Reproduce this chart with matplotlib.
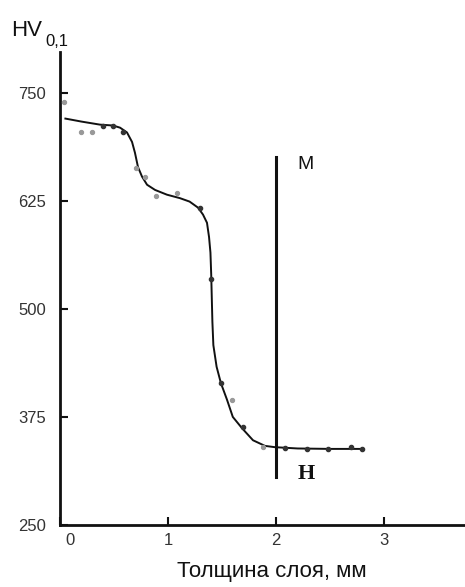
import matplotlib
matplotlib.use("Agg")
import matplotlib.pyplot as plt
from matplotlib.transforms import ScaledTranslation

plt.rcParams['font.family'] = ['Liberation Sans', 'DejaVu Sans']

# Fitted curve (thickness mm, HV0.1)
curve_x = [0.05, 0.20, 0.37, 0.49, 0.556, 0.62, 0.667, 0.694, 0.722, 0.759, 0.806, 0.88,
           0.99, 1.11, 1.20, 1.278, 1.324, 1.361, 1.38, 1.393, 1.400, 1.405, 1.411, 1.420,
           1.45, 1.49, 1.546, 1.60, 1.685, 1.787, 1.898, 1.99, 2.20, 2.50, 2.80]
curve_y = [720, 716.5, 713, 712, 709.5, 704, 693, 680.5, 664, 653, 643.5, 637.5,
           632, 628, 624, 617, 609, 599.5, 583, 565, 540, 515, 485, 458,
           433, 414, 395, 375, 362, 348, 341.5, 340, 338.5, 338, 338]

# Measured points (dark)
dark_x = [0.40, 0.49, 0.58, 1.30, 1.40, 1.49, 1.69, 2.08, 2.29, 2.48, 2.69, 2.80]
dark_y = [712, 711, 705, 617, 534, 414, 363, 339, 338, 338, 340, 338]
# Measured points (light)
light_x = [0.04, 0.19, 0.30, 0.70, 0.79, 0.89, 1.08, 1.59, 1.88]
light_y = [739, 705, 705, 663, 652, 630, 634, 395, 340]

# Boundary line between zones
boundary_x = 2.0
boundary_y = [306, 675]

x_ticks = [0, 1, 2, 3]
y_ticks = [250, 375, 500, 625, 750]

fig = plt.figure(figsize=(4.65, 5.87), dpi=100)
ax = fig.add_axes([60/465, 62/587, 405/465, 473/587])
ax.set_xlim(0, 3.75)
ax.set_ylim(250, 797)

ax.plot(curve_x, curve_y, color='#111111', lw=1.4, zorder=3, solid_joinstyle='round')
ax.scatter(dark_x, dark_y, s=9, color='#333333', zorder=4)
ax.scatter(light_x, light_y, s=8, color='#999999', zorder=4)
ax.plot([boundary_x, boundary_x], boundary_y, color='#111111', lw=2.2, zorder=3)

ax.text(2.2, 667, 'М', fontsize=14, ha='left', va='center', color='#111111')
ax.text(2.2, 309, 'Н', fontsize=16, ha='left', va='center', color='#111111',
        family=['Liberation Serif', 'DejaVu Serif'], fontweight='bold')

for s in ['top', 'right']:
    ax.spines[s].set_visible(False)
for s in ['left', 'bottom']:
    ax.spines[s].set_linewidth(2.0)
    ax.spines[s].set_color('#111111')

ax.set_xticks(x_ticks)
ax.set_xticklabels([str(t) for t in x_ticks])
ax.set_yticks(y_ticks)
ax.set_yticklabels([str(t) for t in y_ticks])
ax.tick_params(axis='both', direction='in', length=6, width=1.5, labelsize=12,
               colors='#111111', labelcolor='#333333')
ax.tick_params(axis='x', pad=6)
ax.tick_params(axis='y', pad=10)
lbl0 = ax.get_xticklabels()[0]
lbl0.set_transform(lbl0.get_transform() + ScaledTranslation(10/100, 0, fig.dpi_scale_trans))

ax.set_xlabel('Толщина слоя, мм', fontsize=16, color='#111111')
ax.xaxis.set_label_coords((272 - 60) / 405, -36/473, transform=ax.transAxes)

fig.text(11/465, 1 - 36/587, 'HV', fontsize=16, ha='left', va='baseline', color='#111111')
fig.text(45/465, 1 - 46/587, '0,1', fontsize=12, ha='left', va='baseline', color='#111111')

fig.savefig('out.png', dpi=100)
